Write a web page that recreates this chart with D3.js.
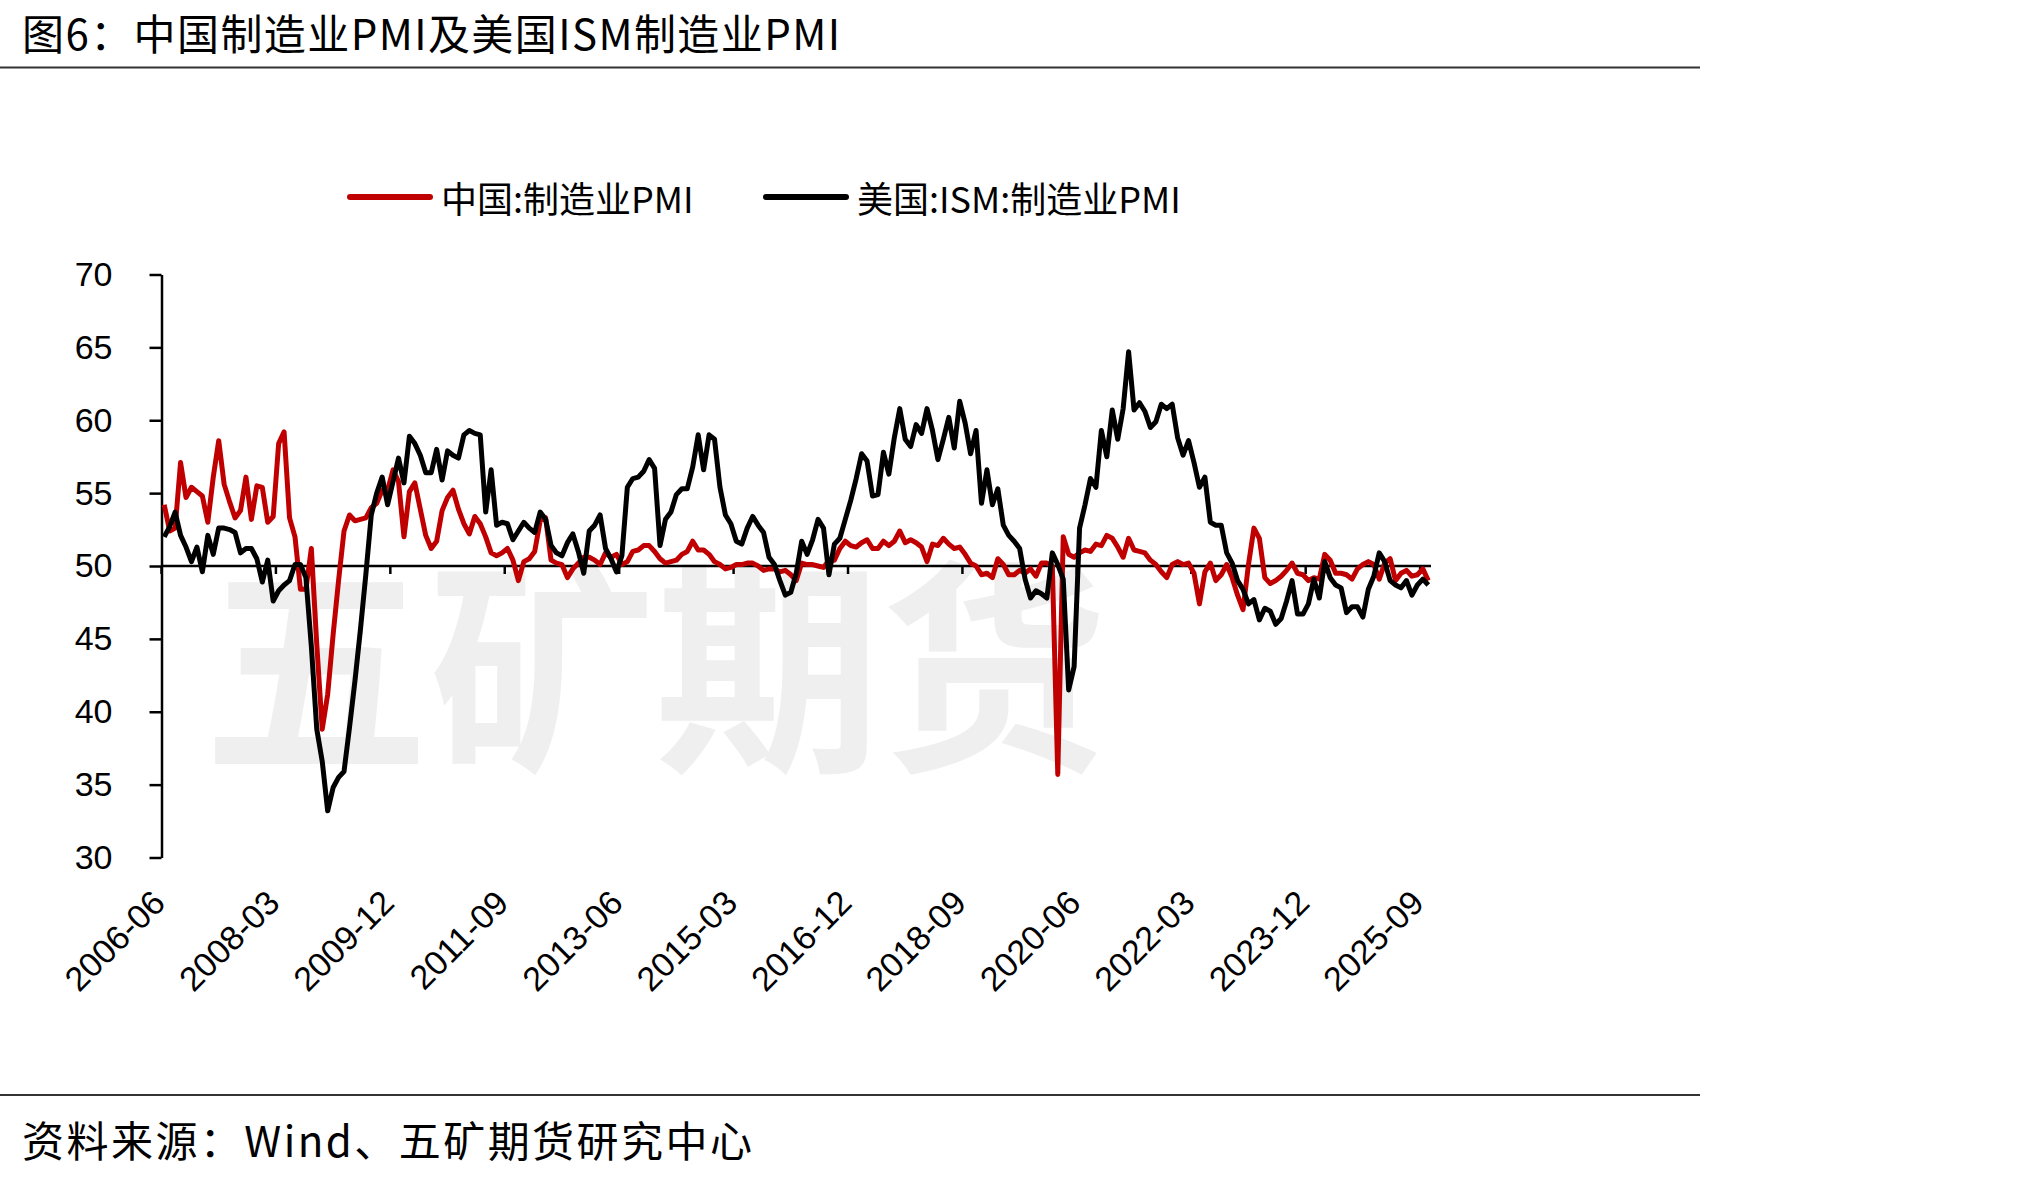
<!DOCTYPE html>
<html>
<head>
<meta charset="utf-8">
<script src="https://cdn.jsdelivr.net/npm/d3@7/dist/d3.min.js"></script>
<style>
  html, body { margin: 0; padding: 0; background: #fff; }
  svg { display: block; }
</style>
</head>
<body>
<svg id="chart" width="2035" height="1178"></svg>
<script>
// monthly categories 2006-06 .. 2025-10
const startYear = 2006, startMonth = 6, monthCount = 233;
const categories = d3.range(monthCount).map(i => {
  const m = startMonth - 1 + i;
  return `${startYear + Math.floor(m / 12)}-${String(m % 12 + 1).padStart(2, '0')}`;
});

const tickLabels = ['2006-06', '2008-03', '2009-12', '2011-09', '2013-06', '2015-03',
  '2016-12', '2018-09', '2020-06', '2022-03', '2023-12', '2025-09'];
const yTicks = [30, 35, 40, 45, 50, 55, 60, 65, 70];

// 中国:制造业PMI
const chinaPMI = [
  54.2, 52.4, 52.6, 57.1, 54.7, 55.4, 55.1,                          // 2006 Jun-Dec
  54.8, 53.0, 56.1, 58.6, 55.6, 54.4, 53.3, 53.8, 56.1, 53.2, 55.5, 55.4, // 2007
  53.0, 53.4, 58.4, 59.2, 53.3, 52.0, 48.4, 48.4, 51.2, 44.6, 38.8, 41.2, // 2008
  45.3, 49.0, 52.4, 53.5, 53.1, 53.2, 53.3, 54.0, 54.3, 55.2, 55.2, 56.6, // 2009
  55.8, 52.0, 55.1, 55.7, 53.9, 52.1, 51.2, 51.7, 53.8, 54.7, 55.2, 53.9, // 2010
  52.9, 52.2, 53.4, 52.9, 52.0, 50.9, 50.7, 50.9, 51.2, 50.4, 49.0, 50.3, // 2011
  50.5, 51.0, 53.1, 53.3, 50.4, 50.2, 50.1, 49.2, 49.8, 50.2, 50.6, 50.6, // 2012
  50.4, 50.1, 50.9, 50.6, 50.8, 50.1, 50.3, 51.0, 51.1, 51.4, 51.4, 51.0, // 2013
  50.5, 50.2, 50.3, 50.4, 50.8, 51.0, 51.7, 51.1, 51.1, 50.8, 50.3, 50.1, // 2014
  49.8, 49.9, 50.1, 50.1, 50.2, 50.2, 50.0, 49.7, 49.8, 49.8, 49.6, 49.7, // 2015
  49.4, 49.0, 50.2, 50.1, 50.1, 50.0, 49.9, 50.4, 50.4, 51.2, 51.7, 51.4, // 2016
  51.3, 51.6, 51.8, 51.2, 51.2, 51.7, 51.4, 51.7, 52.4, 51.6, 51.8, 51.6, // 2017
  51.3, 50.3, 51.5, 51.4, 51.9, 51.5, 51.2, 51.3, 50.8, 50.2, 50.0, 49.4, // 2018
  49.5, 49.2, 50.5, 50.1, 49.4, 49.4, 49.7, 49.5, 49.8, 49.3, 50.2, 50.2, // 2019
  50.0, 35.7, 52.0, 50.8, 50.6, 50.9, 51.1, 51.0, 51.5, 51.4, 52.1, 51.9, // 2020
  51.3, 50.6, 51.9, 51.1, 51.0, 50.9, 50.4, 50.1, 49.6, 49.2, 50.1, 50.3, // 2021
  50.1, 50.2, 49.5, 47.4, 49.6, 50.2, 49.0, 49.4, 50.1, 49.2, 48.0, 47.0, // 2022
  50.1, 52.6, 51.9, 49.2, 48.8, 49.0, 49.3, 49.7, 50.2, 49.5, 49.4, 49.0, // 2023
  49.2, 49.1, 50.8, 50.4, 49.5, 49.5, 49.4, 49.1, 49.8, 50.1, 50.3, 50.1, // 2024
  49.1, 50.2, 50.5, 49.0, 49.5, 49.7, 49.3, 49.4, 49.8, 49.0              // 2025 Jan-Oct
];

// 美国:ISM:制造业PMI
const ismPMI = [
  52.0, 52.7, 53.7, 52.1, 51.3, 50.3, 51.3,                          // 2006 Jun-Dec
  49.6, 52.1, 50.8, 52.6, 52.6, 52.5, 52.3, 50.9, 51.2, 51.2, 50.5, 48.9, // 2007
  50.4, 47.6, 48.3, 48.7, 49.0, 50.1, 50.1, 49.2, 44.5, 38.8, 36.6, 33.2, // 2008
  34.8, 35.5, 35.9, 38.9, 42.1, 45.6, 49.4, 53.5, 55.0, 56.1, 54.2, 55.8, // 2009
  57.4, 55.7, 58.9, 58.4, 57.6, 56.4, 56.4, 58.0, 55.9, 57.9, 57.6, 57.4, // 2010
  59.0, 59.3, 59.1, 59.0, 53.7, 56.6, 52.8, 53.0, 52.9, 51.8, 52.4, 53.0, // 2011
  52.6, 52.3, 53.7, 53.2, 51.4, 50.9, 50.7, 51.6, 52.2, 51.0, 49.5, 52.4, // 2012
  52.8, 53.5, 51.2, 50.5, 49.6, 50.7, 55.4, 56.0, 56.1, 56.5, 57.3, 56.7, // 2013
  51.4, 53.2, 53.7, 54.9, 55.3, 55.3, 56.8, 59.0, 56.6, 59.0, 58.7, 55.4, // 2014
  53.5, 52.9, 51.7, 51.5, 52.6, 53.4, 52.8, 52.3, 50.6, 50.1, 49.0, 48.0, // 2015
  48.2, 49.5, 51.7, 50.8, 51.8, 53.2, 52.6, 49.4, 51.5, 51.9, 53.2, 54.5, // 2016
  56.0, 57.7, 57.2, 54.8, 54.9, 57.8, 56.3, 58.8, 60.8, 58.7, 58.2, 59.7, // 2017
  59.1, 60.8, 59.3, 57.3, 58.7, 60.2, 58.1, 61.3, 59.8, 57.7, 59.3, 54.3, // 2018
  56.6, 54.2, 55.3, 52.8, 52.1, 51.7, 51.2, 49.1, 47.8, 48.3, 48.1, 47.8, // 2019
  50.9, 50.1, 49.1, 41.5, 43.1, 52.6, 54.2, 56.0, 55.4, 59.3, 57.5, 60.7, // 2020
  58.7, 60.8, 64.7, 60.7, 61.2, 60.6, 59.5, 59.9, 61.1, 60.8, 61.1, 58.8, // 2021
  57.6, 58.6, 57.1, 55.4, 56.1, 53.0, 52.8, 52.8, 50.9, 50.2, 49.0, 48.4, // 2022
  47.4, 47.7, 46.3, 47.1, 46.9, 46.0, 46.4, 47.6, 49.0, 46.7, 46.7, 47.4, // 2023
  49.1, 47.8, 50.3, 49.2, 48.7, 48.5, 46.8, 47.2, 47.2, 46.5, 48.4, 49.3, // 2024
  50.9, 50.3, 49.0, 48.7, 48.5, 49.0, 48.0, 48.7, 49.1, 48.7              // 2025 Jan-Oct
];

const series = [
  { name: '中国:制造业PMI', values: chinaPMI, color: '#C00000' },
  { name: '美国:ISM:制造业PMI', values: ismPMI, color: '#000000' }
];

const cjk = '"Noto Sans CJK SC", "Noto Sans", sans-serif';
const latin = '"Liberation Sans", Arial, sans-serif';

const svg = d3.select('#chart');

const plot = { left: 161.5, right: 1431, top: 274.5, bottom: 857.5 };

const x = d3.scaleBand()
  .domain(categories)
  .range([plot.left, plot.right]);

const y = d3.scaleLinear()
  .domain([30, 70])
  .range([plot.bottom, plot.top]);

const cx = d => x(d) + x.bandwidth() / 2;

// Title + rules
svg.append('text')
  .attr('x', 22)
  .attr('y', 50)
  .attr('textLength', 818)
  .attr('lengthAdjust', 'spacing')
  .style('font-family', cjk)
  .style('font-size', '42px')
  .style('fill', '#000')
  .text('图6：中国制造业PMI及美国ISM制造业PMI');

svg.append('line')
  .attr('x1', 0).attr('x2', 1700)
  .attr('y1', 67.5).attr('y2', 67.5)
  .attr('stroke', '#333').attr('stroke-width', 2);

svg.append('line')
  .attr('x1', 0).attr('x2', 1700)
  .attr('y1', 1095).attr('y2', 1095)
  .attr('stroke', '#333').attr('stroke-width', 2);

svg.append('text')
  .attr('x', 22)
  .attr('y', 1157)
  .attr('textLength', 730)
  .attr('lengthAdjust', 'spacing')
  .style('font-family', cjk)
  .style('font-size', '42px')
  .style('fill', '#000')
  .text('资料来源：Wind、五矿期货研究中心');

// Watermark
svg.append('text')
  .attr('x', 655)
  .attr('y', 655)
  .attr('text-anchor', 'middle')
  .attr('dominant-baseline', 'central')
  .style('font-family', cjk)
  .style('font-size', '226px')
  .style('font-weight', 'bold')
  .style('fill', '#efefef')
  .text('五矿期货');

// Y axis
const yAxis = svg.append('g')
  .attr('transform', `translate(${plot.left},0)`)
  .call(d3.axisLeft(y).tickValues(yTicks).tickSize(12).tickSizeOuter(0).tickPadding(37));

yAxis.select('.domain').attr('stroke', '#000').attr('stroke-width', 2.5);
yAxis.selectAll('.tick line').attr('stroke', '#000').attr('stroke-width', 2.5);
yAxis.selectAll('text')
  .style('font-family', latin)
  .style('font-size', '34px')
  .style('fill', '#000');

// X axis sits on the 50 line
const y50 = y(50);
svg.append('line')
  .attr('x1', plot.left).attr('x2', plot.right)
  .attr('y1', y50).attr('y2', y50)
  .attr('stroke', '#000').attr('stroke-width', 2.5);

svg.append('g')
  .selectAll('line')
  .data(tickLabels)
  .enter().append('line')
  .attr('x1', d => x(d)).attr('x2', d => x(d))
  .attr('y1', y50).attr('y2', y50 + 8)
  .attr('stroke', '#000').attr('stroke-width', 2.5);

svg.append('g')
  .selectAll('text')
  .data(tickLabels)
  .enter().append('text')
  .attr('transform', d => `translate(${cx(d) + 3},905) rotate(-45)`)
  .attr('text-anchor', 'end')
  .style('font-family', latin)
  .style('font-size', '34px')
  .style('fill', '#000')
  .text(d => d);

// Lines
const line = d3.line()
  .x((d, i) => cx(categories[i]))
  .y(d => y(d));

svg.append('g')
  .selectAll('path')
  .data(series)
  .enter().append('path')
  .attr('fill', 'none')
  .attr('stroke', d => d.color)
  .attr('stroke-width', 5)
  .attr('stroke-linejoin', 'round')
  .attr('d', d => line(d.values));

// Legend
const legend = svg.append('g')
  .selectAll('g')
  .data(series)
  .enter().append('g')
  .attr('transform', (d, i) => `translate(${[350, 766][i]},197)`);

legend.append('line')
  .attr('x1', 0).attr('x2', 80)
  .attr('stroke', d => d.color)
  .attr('stroke-width', 6)
  .attr('stroke-linecap', 'round');

legend.append('text')
  .attr('x', 91)
  .attr('dominant-baseline', 'central')
  .style('font-family', cjk)
  .style('font-size', '36px')
  .style('fill', '#000')
  .text(d => d.name);
</script>
</body>
</html>
